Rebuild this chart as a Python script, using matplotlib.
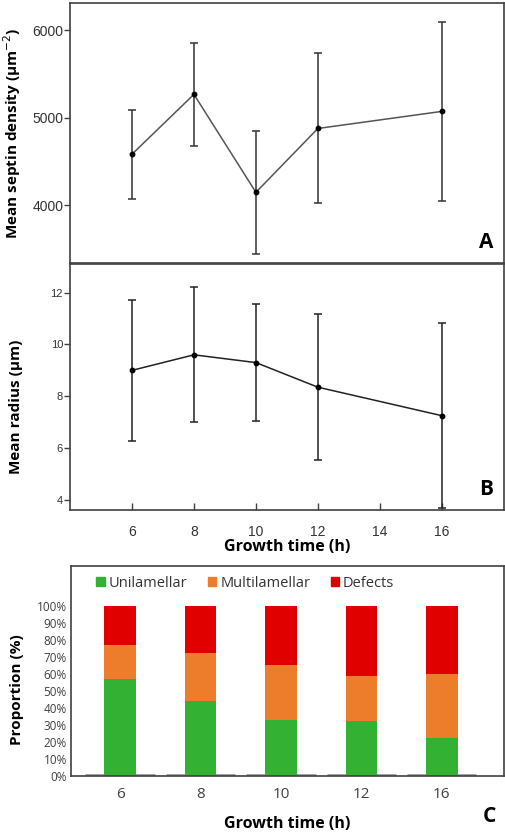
import matplotlib
matplotlib.use("Agg")
import matplotlib.pyplot as plt
import matplotlib.patches as mpatches
import numpy as np

# growth times (h)
hours = [6, 8, 10, 12, 16]

# panel A: mean septin density and error
density_mean = [4580, 5265, 4145, 4875, 5070]
density_err = [510, 590, 705, 857, 1025]

# panel B: mean radius and error
radius_mean = [9.0, 9.6, 9.3, 8.35, 7.25]
radius_err = [2.73, 2.6, 2.25, 2.83, 3.58]

# panel C: proportions (%)
hour_labels = ["6", "8", "10", "12", "16"]
unilamellar = [57, 44, 33, 32, 22]
multilamellar = [20, 28, 32, 27, 38]
defects = [23, 28, 35, 41, 40]

SANS = ["Open Sans", "DejaVu Sans"]
TICK = ["Liberation Sans", "DejaVu Sans"]
SPINE = "#404040"

plt.rcParams["font.family"] = SANS

fig = plt.figure(figsize=(5.05, 8.35), dpi=100)
axA = fig.add_axes([0.1386, 0.685, 0.859, 0.3114])
axB = fig.add_axes([0.1386, 0.389, 0.859, 0.2946])
axC = fig.add_axes([0.1406, 0.071, 0.857, 0.2515])

for ax in (axA, axB, axC):
    for s in ax.spines.values():
        s.set_color(SPINE)
        s.set_linewidth(1.2)

# ---- A
axA.plot(hours, density_mean, color="#555555", lw=1.1, zorder=2)
axA.errorbar(hours, density_mean, yerr=density_err, fmt="o", color="black",
             ms=3.2, ecolor="#333333", elinewidth=1.1, capsize=2.6, capthick=1.1, zorder=3)
axA.set_xlim(4, 18)
axA.set_ylim(3337, 6309)
axA.set_yticks([4000, 5000, 6000])
axA.set_xticks([])
axA.tick_params(axis="y", direction="out", length=4, width=1, color=SPINE,
                labelsize=10, labelcolor="#333333", pad=0.5)
for t in axA.get_yticklabels():
    t.set_family(TICK)
axA.set_ylabel("Mean septin density (µm$^{-2}$)", fontsize=11, fontweight="bold")
axA.yaxis.set_label_coords(-0.108, 0.5)
axA.text(0.975, 0.04, "A", transform=axA.transAxes, ha="right", va="bottom",
         fontsize=15, fontweight="bold")

# ---- B
axB.plot(hours, radius_mean, color="#222222", lw=1.1, zorder=2)
axB.errorbar(hours, radius_mean, yerr=radius_err, fmt="o", color="black",
             ms=3.2, ecolor="#222222", elinewidth=1.1, capsize=2.6, capthick=1.1, zorder=3)
axB.set_xlim(4, 18)
axB.set_ylim(3.6, 13.1)
axB.set_yticks([4, 6, 8, 10, 12])
axB.set_xticks([6, 8, 10, 12, 14, 16])
axB.tick_params(axis="y", direction="out", length=4, width=1, color=SPINE,
                labelsize=8, labelcolor="#333333", pad=1)
axB.tick_params(axis="x", direction="in", length=5, width=1, color=SPINE,
                labelsize=10, labelcolor="#333333", pad=11)
for t in axB.get_yticklabels() + axB.get_xticklabels():
    t.set_family(TICK)
axB.set_ylabel("Mean radius (µm)", fontsize=11, fontweight="bold")
axB.yaxis.set_label_coords(-0.108, 0.42)
axB.set_xlabel("Growth time (h)", fontsize=11.5, fontweight="bold", labelpad=0)
axB.text(0.975, 0.04, "B", transform=axB.transAxes, ha="right", va="bottom",
         fontsize=15, fontweight="bold")

# ---- C
green, orange, red = "#33b133", "#ed7d2b", "#e00000"
x = np.arange(len(hour_labels))
u = np.array(unilamellar) / 100
m = np.array(multilamellar) / 100
d = np.array(defects) / 100
w = 0.39
axC.bar(x, u, w, color=green, zorder=2)
axC.bar(x, m, w, bottom=u, color=orange, zorder=2)
axC.bar(x, d, w, bottom=u + m, color=red, zorder=2)
for xi in x:
    axC.plot([xi - 0.43, xi + 0.43], [0.003, 0.003], color="#888888", lw=1.8, zorder=1,
             solid_capstyle="butt")
axC.set_xlim(-0.61, 4.77)
axC.set_ylim(0, 1.237)
axC.set_yticks(np.linspace(0, 1, 11))
axC.set_yticklabels([f"{v}%" for v in range(0, 101, 10)])
axC.set_xticks(x)
axC.set_xticklabels(hour_labels)
axC.tick_params(axis="y", length=0, labelsize=8.5, labelcolor="#404040", pad=3)
axC.tick_params(axis="x", length=0, labelsize=11, labelcolor="#404040", pad=8)
axC.set_ylabel("Proportion (%)", fontsize=11, fontweight="bold")
axC.yaxis.set_label_coords(-0.108, 0.41)
axC.set_xlabel("Growth time (h)", fontsize=11.5, fontweight="bold", labelpad=10.5)
fig.text(0.97, 0.022, "C", ha="center", va="center", fontsize=15, fontweight="bold")

handles = [mpatches.Patch(color=c, label=l) for c, l in
           [(green, "Unilamellar"), (orange, "Multilamellar"), (red, "Defects")]]
axC.legend(handles=handles, loc="center left", bbox_to_anchor=(0.045, 0.917), ncol=3,
           frameon=False, fontsize=10.5, handlelength=0.6, handleheight=0.6,
           handletextpad=0.25, columnspacing=1.4, borderaxespad=0, labelcolor="#333333")

fig.savefig("out.png", dpi=100, facecolor="white")
